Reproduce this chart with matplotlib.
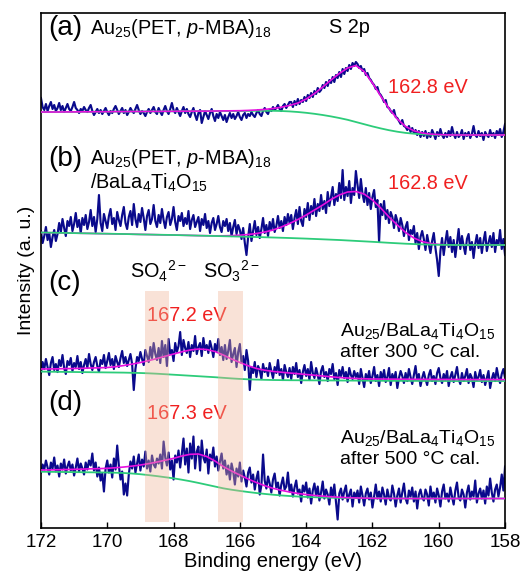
import numpy as np
import matplotlib
matplotlib.use('Agg')
import matplotlib.pyplot as plt

plt.rcParams['font.family'] = ['Liberation Sans', 'DejaVu Sans']
plt.rcParams['mathtext.fontset'] = 'custom'
plt.rcParams['mathtext.rm'] = 'Liberation Sans'
plt.rcParams['mathtext.it'] = 'Liberation Sans:italic'
plt.rcParams['mathtext.bf'] = 'Liberation Sans:bold'

# ---------------- data (intensity in a.u., relative to each trace's baseline) -------------
energy = np.linspace(172.0, 158.0, 281)      # measured points, 0.05 eV step
fit_energy = np.linspace(172.0, 158.0, 57)   # fit curves, 0.25 eV step

data_a = [37, 28, 25, 31, 24, 29, 33, 26, 30, 24, 27, 32, 25, 29, 23, 27, 31, 26, 24, 28, 33, 27, 25, 22, 26, 24, 28, 25, 23, 27, 30,
          24, 20, 23, 26, 22, 25, 21, 24, 27, 23, 20, 24, 22, 26, 29, 25, 21, 24, 27, 22, 25, 20, 23, 27, 24, 22, 26, 30, 25, 21, 24, 22, 19, 23, 26, 22, 25, 28, 23, 21,
          27, 23, 20, 25, 29, 24, 21, 26, 32, 25, 22, 27, 23, 19, 24, 28, 22, 26, 21, 18, 23, 27, 20, 15, 22, 25, 12, 18, 24, 20, 16, 22, 26, 19, 14, 21, 17, 23, 19, 15,
          20, 13, 18, 22, 17, 21, 16, 19, 23, 18, 15, 20, 22, 17, 21, 19, 23, 20, 18, 22, 25, 21, 19, 24, 27, 23, 21, 26, 24, 28, 25, 27, 30, 26, 24, 29, 31, 27, 30, 33,
          33, 28, 34, 30, 36, 31, 35, 33, 38, 34, 40, 37, 42, 38, 44, 41, 47, 43, 45, 50, 47, 53, 49, 55, 52, 58, 53, 60, 57, 63, 58, 66, 61, 67, 64, 70, 66, 72, 69, 73,
          71, 67, 69, 64, 66, 60, 62, 57, 55, 52, 50, 46, 48, 42, 40, 37, 33, 35, 28, 27, 24, 22, 25, 18, 17, 14, 11, 15, 9, 8, 5, 9, 3, 7, 2, 5, 0, 4, -2, 3,
          -1, 4, -3, 2, -2, 5, 1, -4, 3, -1, 6, 0, -3, 2, -2, 4, -1, 8, 1, -3, 3, -2, 0, 5, -4, 2, -1, 3, -3, 1, 9, 0, -2, 4, -1, 2, -5, 3, 0, -2, 5, -1, 2, -3, 4, 0, 6, -2, 3, 11]

data_b = [14, 2, 9, 18, 5, 12, -2, 8, 15, 4, 11, 22, 13, 26, 17, 9, 24, 19, 28, 14, 21, 32, 18, 25, 12, 27, 20, 30, 16, 23, 35,
          19, 28, 13, 26, 50, 22, 14, 31, 24, 17, 29, 36, 21, 27, 15, 33, 25, 19, 30, 38, 22, 16, 28, 34, 20, 41, 26, 18, 31, 23, 37, 27, 15, 29, 35, 21, 26, 40, 24, 18,
          30, 22, 36, 25, 17, 28, 33, 20, 26, 38, 23, 15, 29, 24, 32, 19, 27, 21, 34, 16, 25, 30, 18, 23, 28, 14, 26, 20, 31, 17, 24, 12, 22, 27, 15, 21, 29, 18, 13, 24,
          19, 26, 14, 22, 9, 18, 25, 11, 20, 15, 6, 17, 2, -10, 8, 21, 4, 14, 24, 10, 18, 7, 16, 27, 12, 20, 9, 23, 15, 26, 13, 19, 29, 17, 24, 14, 28, 20, 31, 22,
          30, 16, 27, 35, 21, 38, 24, 19, 36, 28, 42, 25, 39, 31, 46, 29, 41, 34, 50, 36, 44, 32, 53, 39, 48, 58, 40, 51, 44, 62, 47, 75, 45, 58, 49, 64, 42, 57, 50, 74,
          60, 47, 66, 51, 43, 57, 40, 52, 36, 48, 55, 38, 45, 3, 41, 30, 44, 26, 35, 22, 33, 28, 17, 30, 24, 14, 27, 20, 9, 18, 23, 5, 15, 11, 19, 2, 12, -4, 8, 14,
          6, -5, 10, 1, -8, 4, 12, -3, -15, -31, -6, 7, -10, 3, 14, -2, 8, -7, 5, -12, 2, 16, -4, 9, -1, -9, 6, 11, -5, 3, -13, 1, 10, -3, 7, -8, 4, 13, -6, 2, 9, -2, 12, -7, 5, 0, 15, -4, 6, -10]

data_c = [8, 19, 12, 22, 14, 6, 18, 24, 11, 17, 9, 21, 15, 26, 13, 7, 20, 16, 23, 10, 18, 14, 25, 12, 19, 8, 16, 22, 13, 27, 17,
          11, 19, 24, 15, 9, 21, 17, 26, 13, 20, 28, 16, 22, 12, 25, 19, 14, 23, 30, 18, 24, 15, 21, 27, 17, -9, 12, 24, 20, 29, 22, 16, 31, 25, 19, 34, 23, 38, 27, 21,
          33, 18, 40, 24, 36, 15, 42, 27, 31, 20, 38, 29, 35, 49, 26, 41, 33, 28, 39, 24, 36, 30, 45, 27, 34, 38, 25, 43, 31, 36, 28, 40, 33, 24, 37, 30, 42, 26, 34, 21,
          36, 22, 30, 41, 19, 27, 33, 14, 29, 37, 18, 25, 11, 31, 20, -9, 14, 8, 19, 4, 15, 11, 2, 17, 9, 13, 5, 18, 10, 3, 14, 8, 21, 6, 12, 1, 16, 9, 4, 13,
          2, 14, 7, 18, 4, 11, -2, 9, 16, 5, 12, 1, 19, 8, 3, 13, 6, -3, 10, 15, 4, 9, 0, 12, 7, 17, 2, 8, -4, 11, 5, 14, 3, 9, -1, 13, 6, 2, 10, 4,
          8, -3, 12, 3, -6, 7, 1, 10, -2, 5, 14, 0, 6, -5, 9, 2, 11, -1, 4, 13, -4, 7, 1, 9, -7, 3, 10, 5, -2, 8, 0, 12, 4, -3, 6, 15, 1, 7, -5, 3,
          9, 2, -4, 6, 11, 0, 5, -3, 8, 13, 3, -2, 7, 1, 10, -5, 4, 9, -1, 6, 14, 2, -3, 8, 0, 5, 12, -2, 7, 3, -6, 9, 1, 4, 11, -1, 6, -4, 3, 10, -7, 2, 8, 0, 13, 4, -2, 7, 12, 3]

data_d = [26, 34, 29, 38, 31, 24, 36, 30, 41, 27, 33, 22, 35, 29, 39, 25, 32, 37, 28, 34, 23, 31, 40, 27, 35, 30, 24, 36, 29, 38, 33,
          45, 28, 36, 22, 31, 18, 25, 7, 30, 38, 26, 34, 21, 40, 29, 53, 33, 19, 27, 4, 15, 3, 24, 37, 30, 42, 26, 35, 44, 28, 39, 32, 47, 30, 38, 27, 43, 34, 31, 40,
          35, 44, 30, 57, 41, 33, 46, 29, 38, 19, 43, 36, 48, 31, 45, 60, 34, 50, 26, 55, 40, 62, 30, 47, 52, 28, 58, 41, 36, 49, 25, 44, 38, 51, 32, 42, 28, 37, 45, 30,
          38, 24, 33, 19, 35, 27, 14, 30, 22, 36, 17, 28, 21, 12, 26, 31, 16, 24, 9, 20, 27, 4, 13, 44, 18, 10, 22, 15, 6, 19, 25, 11, 16, 3, 14, 21, 9, 12, 26, 7,
          14, 2, 11, 18, 5, 9, -3, 13, 7, 16, 1, 10, -5, 8, 15, 3, 12, -2, 6, 17, 0, 9, 4, -6, 11, 2, 14, -4, -21, 5, 10, -1, 7, 13, -3, 4, 9, -8, 6, 1,
          8, -4, 12, 3, -7, 5, 10, -1, 6, -9, 2, 14, 0, 7, -3, 11, 4, -6, 9, 1, -2, 13, 5, -8, 3, 10, -4, 6, 15, 0, -5, 8, 2, 11, -3, 7, -10, 4, 9, 1,
          -2, 9, 4, -7, 12, 1, 6, -4, 10, 3, -8, 7, 14, 0, 5, -3, 11, 2, -6, 8, 16, 1, -2, 9, 4, -9, 6, 13, -1, 7, 2, 18, -4, 5, 10, 0, 8, -5, 12, 3, 20, 6, -3, 9, 14, 2, 11, 24, 8, 32]

fit_a = [23, 23, 23, 23.1, 23.1, 23.2, 23.2, 23.3, 23.3, 23.4, 23.4, 23.5, 23.5, 23.6, 23.6, 23.7, 23.7, 23.8, 23.8, 23.9,
         23.9, 24.0, 24.1, 24.2, 24.3, 24.6, 25.0, 25.6, 26.5, 27.8, 29.6, 32.0, 36.0, 41.5, 48.0, 55.0, 61.5, 67.0, 69.5, 63.5,
         52.0, 39.0, 26.5, 16.0, 8.5, 4.2, 2.0, 0.9, 0.4, 0.1, 0, 0, 0, 0, 0, 0, 0]
bg_a = [23, 23, 23, 23.1, 23.1, 23.2, 23.2, 23.3, 23.3, 23.4, 23.4, 23.5, 23.5, 23.6, 23.6, 23.7, 23.7, 23.8, 23.8, 23.9,
        23.9, 23.9, 24.0, 24.0, 24.0, 24.1, 24.2, 24.2, 24.2, 24.0, 23.6, 23.0, 22.2, 21.2, 20.0, 18.6, 17.0, 15.2, 13.0, 10.8,
        8.6, 6.6, 4.8, 3.3, 2.1, 1.3, 0.7, 0.3, 0.1, 0, 0, 0, 0, 0, 0, 0, 0]

fit_b = [12.5, 12.3, 12.2, 12.0, 11.9, 11.7, 11.6, 11.4, 11.3, 11.1, 11.0, 10.8, 10.6, 10.5, 10.3, 10.1, 10.0, 9.8, 9.6, 9.4,
         9.3, 9.2, 9.2, 9.4, 9.8, 10.5, 11.5, 13, 15, 18, 21.5, 25.5, 30, 35, 40, 45.5, 50, 53, 53.5, 51,
         45, 37, 28, 20, 12.5, 7, 3.5, 1.5, 0.6, 0.2, 0, 0, 0, 0, 0, 0, 0]
bg_b = [12.5, 12.35, 12.2, 12.05, 11.9, 11.75, 11.6, 11.45, 11.3, 11.15, 11.0, 10.8, 10.6, 10.45, 10.3, 10.15, 10.0, 9.8, 9.6, 9.4,
        9.2, 9.0, 8.8, 8.6, 8.4, 8.2, 8.0, 7.75, 7.5, 7.25, 7.0, 6.7, 6.4, 6.05, 5.7, 5.35, 5.0, 4.55, 4.1, 3.65,
        3.2, 2.7, 2.2, 1.75, 1.3, 0.95, 0.6, 0.4, 0.2, 0.1, 0, 0, 0, 0, 0, 0, 0]

fit_c = [12, 12.1, 12.2, 12.4, 12.5, 12.7, 13.0, 13.2, 13.5, 14.3, 15.5, 16.9, 18.5, 20.4, 22.5, 24.8, 27, 29.2, 31, 32,
         31.5, 29.5, 26, 22, 18.5, 15.3, 12.5, 10.8, 9.6, 8.8, 8.0, 7.3, 6.5, 5.8, 5.0, 4.2, 3.5, 3.0, 2.5, 2.2,
         2.0, 1.95, 1.9, 1.85, 1.8, 1.75, 1.7, 1.65, 1.6, 1.6, 1.55, 1.55, 1.5, 1.5, 1.5, 1.5, 1.5]
bg_c = [9.4, 9.3, 9.2, 9.1, 9.0, 8.9, 8.8, 8.7, 8.6, 8.5, 8.4, 8.2, 8.0, 7.7, 7.3, 6.8, 6.3, 5.8, 5.3, 4.8,
        4.3, 3.8, 3.2, 2.6, 2.1, 1.7, 1.4, 1.2, 1.0, 0.9, 0.8, 0.75, 0.7, 0.65, 0.6, 0.55, 0.5, 0.45, 0.4, 0.35,
        0.3, 0.25, 0.2, 0.2, 0.15, 0.15, 0.1, 0.1, 0.05, 0.05, 0, 0, 0, 0, 0, 0, 0]

fit_d = [28.5, 28.6, 28.8, 29.0, 29.2, 29.4, 29.7, 29.9, 30.2, 30.8, 31.5, 32.4, 33.5, 34.9, 36.5, 38.3, 40.2, 42.5, 44.2, 44.5,
         42, 37.5, 32, 27.5, 23.5, 19.5, 16, 12.8, 10.2, 8.2, 6.5, 5.1, 4.0, 3.1, 2.4, 1.8, 1.3, 0.9, 0.6, 0.4,
         0.25, 0.15, 0.1, 0.05, 0, 0, 0, 0, 0, 0, 0, 0, 0, 0, 0, 0, 0]
bg_d = [26.8, 26.7, 26.6, 26.5, 26.4, 26.3, 26.2, 26.1, 26.0, 25.8, 25.5, 25.0, 24.3, 23.4, 22.4, 21.3, 20.2, 18.8, 17.3, 15.6,
        13.8, 12.0, 10.2, 8.8, 7.6, 6.5, 5.5, 4.6, 3.8, 3.1, 2.5, 2.0, 1.6, 1.3, 1.0, 0.8, 0.6, 0.5, 0.4, 0.3,
        0.2, 0.15, 0.1, 0.05, 0, 0, 0, 0, 0, 0, 0, 0, 0, 0, 0, 0, 0]

# band regions (eV) for SO4^2- and SO3^2-
bands = [(168.87, 168.13), (166.65, 165.9)]
xticks = [172, 170, 168, 166, 164, 162, 160, 158]

# ---------------- layout / style -------------
offsets = [393, 283, 147, 29.5]
green_on_top = [False, True, False, False]
navy = '#0a0a8c'
magenta = '#e810e0'
green = '#2dcc7a'
red = '#f02020'

fig = plt.figure(figsize=(5.25, 5.83), dpi=100)
ax = fig.add_axes([0.078, 0.0943, 0.884, 0.8834])

datas = [data_a, data_b, data_c, data_d]
fits = [fit_a, fit_b, fit_c, fit_d]
bgs = [bg_a, bg_b, bg_c, bg_d]

for d, f, b, off, gtop in zip(datas, fits, bgs, offsets, green_on_top):
    ax.plot(energy, np.asarray(d) + off, color=navy, lw=1.55, zorder=2)
    zg, zm = (4, 3) if gtop else (3, 4)
    ax.plot(fit_energy, np.asarray(b) + off, color=green, lw=1.3, zorder=zg)
    ax.plot(fit_energy, np.asarray(f) + off, color=magenta, lw=1.2, zorder=zm)

for lo, hi in bands:
    ax.axvspan(lo, hi, ymin=0.012, ymax=0.46, facecolor='#f0b496', alpha=0.38,
               edgecolor='none', zorder=5)

ax.set_xlim(172, 158)
ax.set_ylim(0, 515)
ax.set_xticks(xticks)
ax.set_xticklabels([str(t) for t in xticks])
ax.set_yticks([])
ax.tick_params(axis='x', direction='in', length=4, width=1.0, labelsize=13.5, pad=4)
for s in ax.spines.values():
    s.set_linewidth(1.2)
ax.set_xlabel('Binding energy (eV)', fontsize=14.5, labelpad=1)
ax.set_ylabel('Intensity (a. u.)', fontsize=14, labelpad=4)

big = 20
mid = 14.3
small = 14
xl = 171.78
# (a)
ax.text(xl, 500, '(a)', fontsize=big, ha='left', va='center')
ax.text(170.52, 500, r'Au$_{25}$(PET, $p$-MBA)$_{18}$', fontsize=mid, ha='left', va='center')
ax.text(162.68, 501, 'S 2p', fontsize=mid, ha='center', va='center')
ax.text(161.53, 441, '162.8 eV', fontsize=mid, color=red, ha='left', va='center')
# (b)
ax.text(xl, 369, '(b)', fontsize=big, ha='left', va='center')
ax.text(170.52, 370, r'Au$_{25}$(PET, $p$-MBA)$_{18}$', fontsize=mid, ha='left', va='center')
ax.text(170.52, 345, r'/BaLa$_4$Ti$_4$O$_{15}$', fontsize=mid, ha='left', va='center')
ax.text(161.53, 345, '162.8 eV', fontsize=mid, color=red, ha='left', va='center')
# (c)
ax.text(xl, 245, '(c)', fontsize=big, ha='left', va='center')
ax.text(169.31, 250, r'SO$_4{}^{2-}$', fontsize=mid, ha='left', va='baseline')
ax.text(167.11, 250, r'SO$_3{}^{2-}$', fontsize=mid, ha='left', va='baseline')
ax.text(168.80, 213, '167.2 eV', fontsize=mid, color=red, ha='left', va='center')
ax.text(162.98, 192, r'Au$_{25}$/BaLa$_4$Ti$_4$O$_{15}$', fontsize=small, ha='left', va='baseline')
ax.text(162.98, 171.5, 'after 300 \u00b0C cal.', fontsize=small, ha='left', va='baseline')
# (d)
ax.text(xl, 125, '(d)', fontsize=big, ha='left', va='center')
ax.text(168.80, 115, '167.3 eV', fontsize=mid, color=red, ha='left', va='center')
ax.text(162.98, 85.5, r'Au$_{25}$/BaLa$_4$Ti$_4$O$_{15}$', fontsize=small, ha='left', va='baseline')
ax.text(162.98, 64, 'after 500 \u00b0C cal.', fontsize=small, ha='left', va='baseline')

fig.savefig('out.png', dpi=100)
